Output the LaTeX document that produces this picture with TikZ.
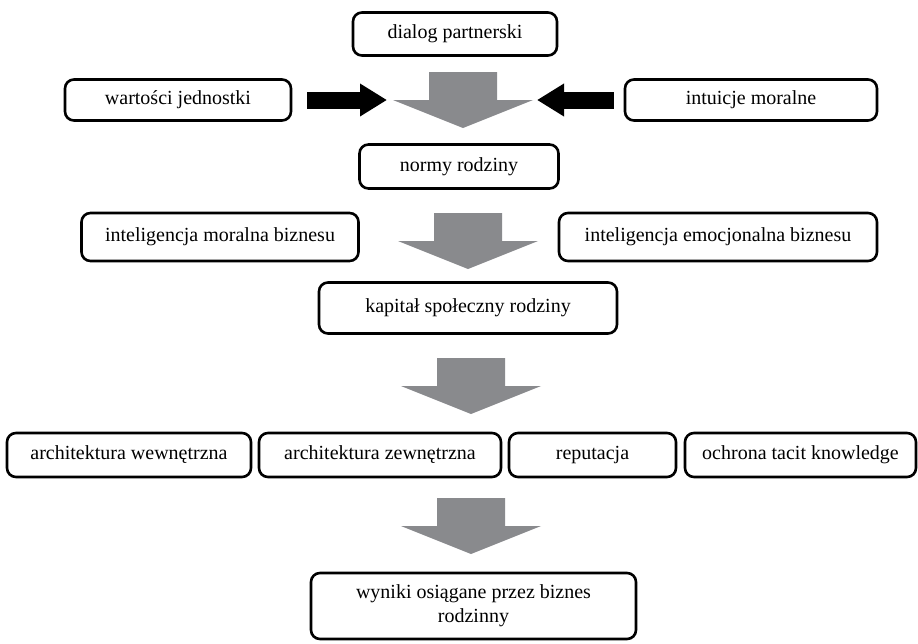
\documentclass[tikz,border=0pt]{standalone}
\usepackage{fontspec}
\setmainfont{Liberation Serif}
\usepackage{xcolor}
\usetikzlibrary{arrows.meta}
\definecolor{arrowgray}{RGB}{137,138,141}

\begin{document}
\begin{tikzpicture}[x=1pt, y=-1pt,
  stage/.style={draw, line width=2.6pt, rounded corners=9pt, align=center,
    inner sep=0pt, font=\fontsize{20}{24}\selectfont},
  push/.style={line width=17pt, -{Triangle[length=27pt, width=31pt]}}]
  \useasboundingbox (0,0) rectangle (918,643);

  % upper part: sources of the family norms
  \node[stage, minimum width=204, minimum height=43] (dialog) at (455,34) {dialog partnerski};
  \node[stage, minimum width=226, minimum height=41] (wartosci) at (178,100) {wartości jednostki};
  \node[stage, minimum width=252, minimum height=41] (intuicje) at (751,100) {intuicje moralne};
  \node[stage, minimum width=199, minimum height=44] (normy) at (459,166.5) {normy rodziny};

  % two kinds of business intelligence
  \node[stage, minimum width=277, minimum height=48] (intmor) at (220,237) {inteligencja moralna biznesu};
  \node[stage, minimum width=318, minimum height=48] (intemo) at (718,237) {inteligencja emocjonalna biznesu};
  \node[stage, minimum width=298, minimum height=51] (kapital) at (468,308) {kapitał społeczny rodziny};

  % row of four components
  \node[stage, minimum width=244, minimum height=44] (archwew) at (129,455) {architektura wewnętrzna};
  \node[stage, minimum width=242, minimum height=44] (archzew) at (380,455) {architektura zewnętrzna};
  \node[stage, minimum width=167, minimum height=44] (reput) at (592.5,455) {reputacja};
  \node[stage, minimum width=231, minimum height=44] (tacit) at (800.5,455) {ochrona tacit knowledge};

  \node[stage, minimum width=325, minimum height=66] (wyniki) at (473.5,606) {wyniki osiągane przez biznes\\rodzinny};

  % grey block arrows
  \foreach \cx/\top in {463/72, 468/213, 471/358, 471/498}
    \fill[arrowgray] (\cx-34,\top) -- (\cx+34,\top) -- (\cx+34,\top+28) -- (\cx+70,\top+28)
      -- (\cx,\top+56) -- (\cx-70,\top+28) -- (\cx-34,\top+28) -- cycle;

  % black arrows into the first one
  \coordinate (mixL) at (387,100);
  \coordinate (mixR) at (537,100);
  \draw[push] ([xshift=15pt]wartosci.east) -- (mixL);
  \draw[push] ([xshift=-10pt]intuicje.west) -- (mixR);
\end{tikzpicture}
\end{document}
